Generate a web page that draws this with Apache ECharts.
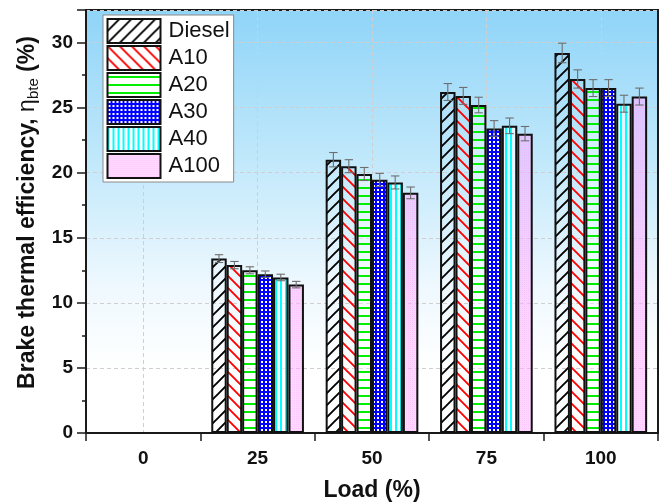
<!DOCTYPE html>
<html><head><meta charset="utf-8">
<script src="https://cdn.jsdelivr.net/npm/echarts@6/dist/echarts.min.js"></script>
<style>html,body{margin:0;padding:0;background:#fff}#c{width:665px;height:502px}</style>
</head><body><div id="c"></div>
<script>
const categories = ['0', '25', '50', '75', '100'];
const seriesNames = ['Diesel', 'A10', 'A20', 'A30', 'A40', 'A100'];
const diesel = [null, 13.4, 21.0, 26.2, 29.2];
const a10 = [null, 12.9, 20.5, 25.9, 27.2];
const a20 = [null, 12.5, 19.9, 25.2, 26.5];
const a30 = [null, 12.2, 19.45, 23.4, 26.5];
const a40 = [null, 11.95, 19.25, 23.6, 25.3];
const a100 = [null, 11.4, 18.45, 23.0, 25.85];
const dieselErr = [0, 0.3, 0.55, 0.65, 0.75];
const a10Err = [0, 0.28, 0.5, 0.65, 0.7];
const a20Err = [0, 0.27, 0.5, 0.6, 0.65];
const a30Err = [0, 0.25, 0.5, 0.6, 0.65];
const a40Err = [0, 0.25, 0.5, 0.6, 0.65];
const a100Err = [0, 0.25, 0.45, 0.55, 0.65];
const yTicks = [0, 5, 10, 15, 20, 25, 30];

const values = [diesel, a10, a20, a30, a40, a100];
const errs = [dieselErr, a10Err, a20Err, a30Err, a40Err, a100Err];
const FONT = 'Liberation Sans, Arial, sans-serif';

function mk(w, h, draw) {
  const c = document.createElement('canvas');
  c.width = w; c.height = h;
  const ctx = c.getContext('2d');
  draw(ctx, w, h);
  return { image: c, repeat: 'repeat' };
}
const patterns = [
  mk(12, 12, (g, s) => {
    g.strokeStyle = '#000'; g.lineWidth = 1.9;
    g.beginPath();
    g.moveTo(0, s); g.lineTo(s, 0);
    g.moveTo(-2, 2); g.lineTo(2, -2);
    g.moveTo(s - 2, s + 2); g.lineTo(s + 2, s - 2);
    g.stroke();
  }),
  mk(12, 12, (g, s) => {
    g.strokeStyle = '#ff0000'; g.lineWidth = 1.9;
    g.beginPath();
    g.moveTo(0, 0); g.lineTo(s, s);
    g.moveTo(-2, s - 2); g.lineTo(2, s + 2);
    g.moveTo(s - 2, -2); g.lineTo(s + 2, 2);
    g.stroke();
  }),
  mk(4, 8, (g, w, h) => {
    g.fillStyle = 'rgba(255,255,255,0.35)'; g.fillRect(0, 0, w, h);
    g.fillStyle = '#00ee00'; g.fillRect(0, 3, w, 2);
  }),
  mk(4, 4, (g, w, h) => {
    g.fillStyle = '#0000ff'; g.fillRect(0, 0, w, h);
    g.fillStyle = '#ffffff'; g.fillRect(1, 1, 2, 2);
  }),
  mk(5, 4, (g, w, h) => {
    g.fillStyle = 'rgba(255,255,255,0.6)'; g.fillRect(0, 0, w, h);
    g.fillStyle = '#00ffff'; g.fillRect(0, 0, 2, h);
  }),
  mk(2, 2, (g, w, h) => {
    g.fillStyle = 'rgba(255,175,255,0.5)'; g.fillRect(0, 0, w, h);
    g.fillStyle = 'rgba(255,150,255,0.25)'; g.fillRect(0, 0, 1, 1);
  })
];

const gapFrac = 0.19;
const barSeries = seriesNames.map((n, i) => ({
  name: n,
  type: 'bar',
  data: values[i],
  barGap: '0%',
  barCategoryGap: '19%',
  itemStyle: { color: patterns[i], borderColor: '#111', borderWidth: 2 },
  z: 2
}));

const errData = [];
values.forEach((arr, k) => {
  arr.forEach((v, c) => {
    if (v != null) errData.push([c, v, errs[k][c], k]);
  });
});

const errSeries = {
  type: 'custom',
  silent: true,
  z: 5,
  data: errData,
  renderItem(params, api) {
    const cat = api.value(0), v = api.value(1), e = api.value(2), k = api.value(3);
    const c = api.coord([cat, v]);
    const band = api.size([1, 0])[0];
    const bw = band * (1 - gapFrac) / 6;
    const x = c[0] + (k - 2.5) * bw;
    const top = api.coord([cat, v + e])[1];
    const bot = api.coord([cat, v - e])[1];
    const hw = 4.2;
    const st = { stroke: '#6e6e6e', lineWidth: 1.1 };
    return {
      type: 'group', children: [
        { type: 'line', shape: { x1: x, y1: top, x2: x, y2: bot }, style: st },
        { type: 'line', shape: { x1: x - hw, y1: top, x2: x + hw, y2: top }, style: st },
        { type: 'line', shape: { x1: x - hw, y1: bot, x2: x + hw, y2: bot }, style: st }
      ]
    };
  }
};

const chart = echarts.init(document.getElementById('c'), null, { renderer: 'canvas' });
chart.setOption({
  animation: false,
  backgroundColor: '#fff',
  grid: {
    left: 86, top: 10, right: 7, bottom: 69,
    containLabel: false,
    outerBoundsMode: 'none',
    show: true,
    borderColor: '#1a1a1a', borderWidth: 2,
    backgroundColor: {
      type: 'linear', x: 0, y: 0, x2: 0, y2: 1,
      colorStops: [
        { offset: 0, color: '#8fd4f8' },
        { offset: 0.35, color: '#c0e8fb' },
        { offset: 0.65, color: '#eef8fe' },
        { offset: 0.85, color: '#ffffff' },
        { offset: 1, color: '#ffffff' }
      ]
    }
  },
  legend: {
    data: seriesNames,
    orient: 'vertical',
    left: 103, top: 15,
    itemWidth: 53, itemHeight: 24, itemGap: 1,
    padding: [3, 4, 3, 3.5],
    backgroundColor: '#ffffff',
    borderColor: '#8a8a8a', borderWidth: 1,
    icon: 'rect',
    itemStyle: { borderColor: '#111', borderWidth: 2 },
    textStyle: { fontFamily: FONT, fontSize: 22, color: '#111', padding: [0, 0, 0, 3] }
  },
  xAxis: [{
    type: 'category',
    data: categories,
    name: 'Load (%)',
    nameLocation: 'middle',
    nameGap: 46,
    nameTextStyle: { fontFamily: FONT, fontWeight: 'bold', fontSize: 23, color: '#111' },
    axisLine: { lineStyle: { color: '#1a1a1a', width: 2 } },
    axisTick: { alignWithLabel: true, length: 8, inside: false, lineStyle: { color: '#1a1a1a', width: 1.5 } },
    axisLabel: { margin: 16, fontFamily: FONT, fontWeight: 'bold', fontSize: 19, color: '#111' },
    splitLine: { show: true, alignWithLabel: true, lineStyle: { color: '#cfcfcf', type: [4, 3], width: 1 } }
  }, {
    type: 'category',
    data: categories,
    position: 'bottom',
    axisLine: { show: false },
    axisTick: { show: true, length: 8, lineStyle: { color: '#1a1a1a', width: 1.5 } },
    axisLabel: { show: false },
    splitLine: { show: false }
  }],
  yAxis: {
    type: 'value',
    min: 0, max: 32.5, interval: 5,
    name: '{b|Brake thermal efficiency, }{n|η}{s|bte}{b| (%)}',
    nameLocation: 'middle',
    nameGap: 44,
    nameRotate: 90,
    nameTextStyle: {
      padding: [0, 0, 0, 18],
      rich: {
        b: { fontFamily: FONT, fontWeight: 'bold', fontSize: 23, color: '#111', lineHeight: 26 },
        n: { fontFamily: FONT, fontSize: 23, color: '#111', lineHeight: 26 },
        s: { fontFamily: FONT, fontSize: 15, color: '#111', lineHeight: 10, verticalAlign: 'bottom' }
      }
    },
    axisLine: { show: true, lineStyle: { color: '#1a1a1a', width: 2 } },
    axisTick: { show: true, length: 9, lineStyle: { color: '#1a1a1a', width: 1.5 } },
    minorTick: { show: true, splitNumber: 2, length: 4, lineStyle: { color: '#1a1a1a', width: 1.5 } },
    axisLabel: {
      margin: 13, fontFamily: FONT, fontWeight: 'bold', fontSize: 19, color: '#111',
      formatter: v => (yTicks.indexOf(v) >= 0 ? String(v) : '')
    },
    splitLine: { show: true, lineStyle: { color: '#cfcfcf', type: [4, 3], width: 1 } }
  },
  series: barSeries.concat([errSeries])
});
</script></body></html>
